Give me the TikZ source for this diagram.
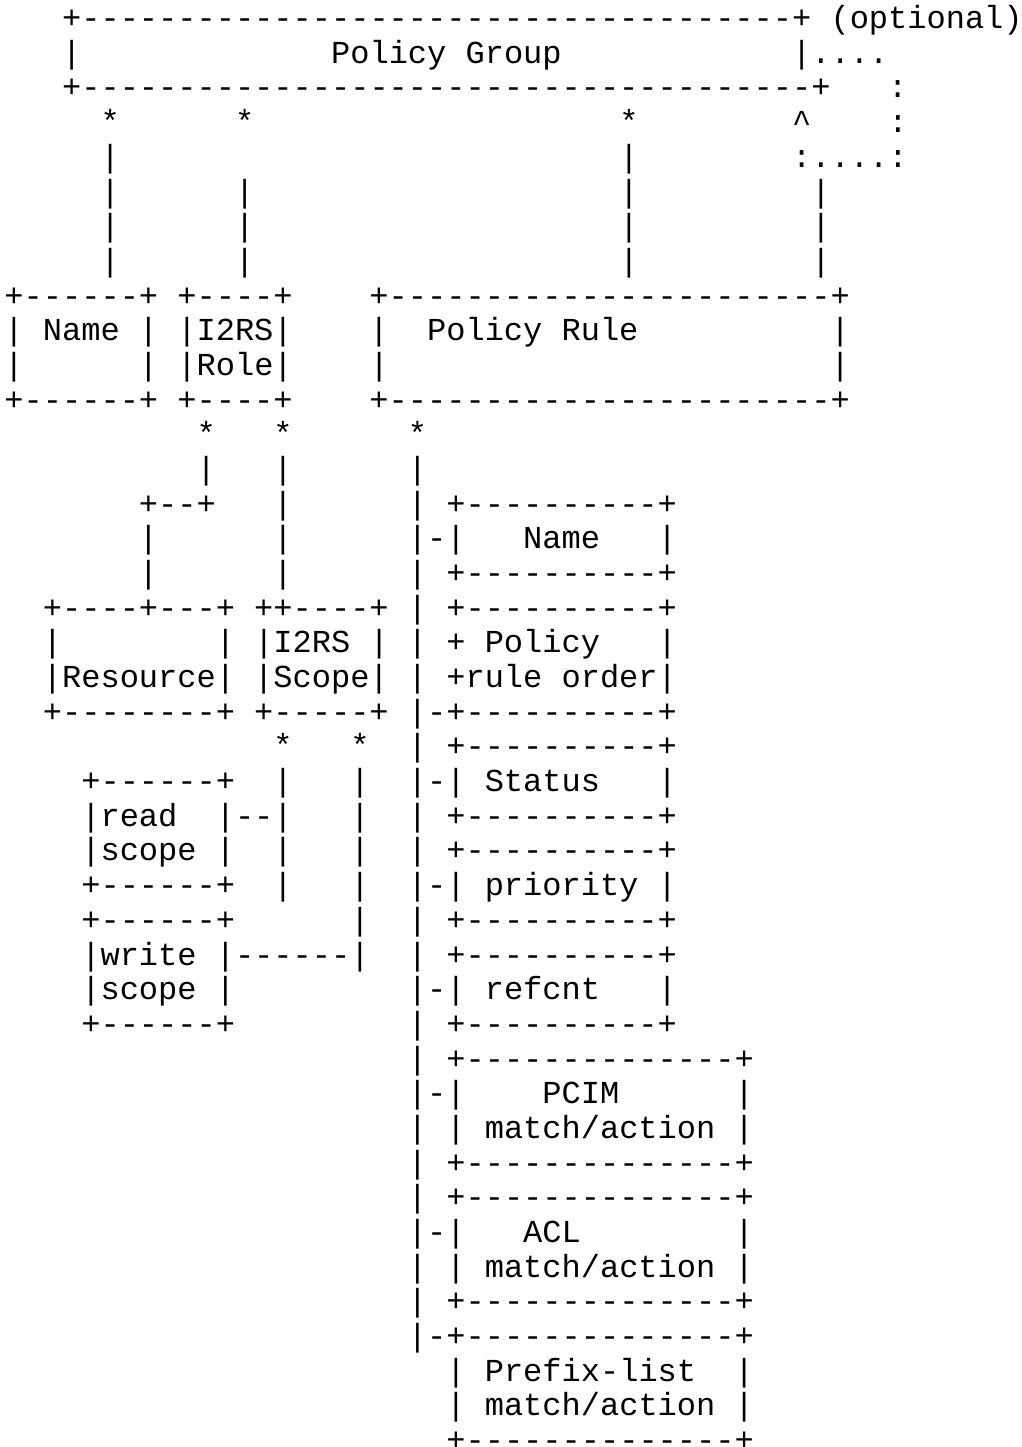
\documentclass[tikz,border=0pt]{standalone}
\usepackage{fontspec}
\setmonofont{Liberation Mono}

% spaces typed in a row are kept, one column each
{\catcode`\ =\active\gdef\SpacesOn{\catcode`\ =\active\def {\ }}}
\newcommand*{\AsciiRow}{\begingroup\SpacesOn\AsciiRowAux}
\newcommand*{\AsciiRowAux}[2]{%
   \node[rowtext] (l#1) at (1.405pt,{-8.94pt-(#1-1)*10.832pt}) {#2};%
   \endgroup}

\begin{document}
\begin{tikzpicture}[rowtext/.style={anchor=base west,inner sep=0pt,outer sep=0pt,
      font=\ttfamily\fontsize{10pt}{10.832pt}\selectfont}]
            \fill[white] (0,0) rectangle (318.9pt,-451.95pt);
            \useasboundingbox (0,0) rectangle (318.9pt,-451.95pt);
            % policy group
            \AsciiRow{1}{   +-------------------------------------+ (optional)}
            \AsciiRow{2}{   |             Policy Group            |....}
            \AsciiRow{3}{   +--------------------------------------+   :}
            \AsciiRow{4}{     *      *                   *        \textasciicircum    :}
            \AsciiRow{5}{     |                          |        :....:}
            \AsciiRow{6}{     |      |                   |         |}
            \AsciiRow{7}{     |      |                   |         |}
            \AsciiRow{8}{     |      |                   |         |}
            % name, role, policy rule
            \AsciiRow{9}{+------+ +----+    +-----------------------+}
            \AsciiRow{10}{| Name | |I2RS|    |  Policy Rule          |}
            \AsciiRow{11}{|      | |Role|    |                       |}
            \AsciiRow{12}{+------+ +----+    +-----------------------+}
            \AsciiRow{13}{          *   *      *}
            \AsciiRow{14}{          |   |      |}
            \AsciiRow{15}{       +--+   |      | +----------+}
            \AsciiRow{16}{       |      |      |-|   Name   |}
            \AsciiRow{17}{       |      |      | +----------+}
            % resource, scope
            \AsciiRow{18}{  +----+---+ ++----+ | +----------+}
            \AsciiRow{19}{  |        | |I2RS | | + Policy   |}
            \AsciiRow{20}{  |Resource| |Scope| | +rule order|}
            \AsciiRow{21}{  +--------+ +-----+ |-+----------+}
            \AsciiRow{22}{              *   *  | +----------+}
            \AsciiRow{23}{    +------+  |   |  |-| Status   |}
            \AsciiRow{24}{    |read  |--|   |  | +----------+}
            \AsciiRow{25}{    |scope |  |   |  | +----------+}
            \AsciiRow{26}{    +------+  |   |  |-| priority |}
            \AsciiRow{27}{    +------+      |  | +----------+}
            \AsciiRow{28}{    |write |------|  | +----------+}
            \AsciiRow{29}{    |scope |         |-| refcnt   |}
            \AsciiRow{30}{    +------+         | +----------+}
            % match/action entries
            \AsciiRow{31}{                     | +--------------+}
            \AsciiRow{32}{                     |-|    PCIM      |}
            \AsciiRow{33}{                     | | match/action |}
            \AsciiRow{34}{                     | +--------------+}
            \AsciiRow{35}{                     | +--------------+}
            \AsciiRow{36}{                     |-|   ACL        |}
            \AsciiRow{37}{                     | | match/action |}
            \AsciiRow{38}{                     | +--------------+}
            \AsciiRow{39}{                     |-+--------------+}
            \AsciiRow{40}{                       | Prefix-list  |}
            \AsciiRow{41}{                       | match/action |}
            \AsciiRow{42}{                       +--------------+}
          \end{tikzpicture}
\end{document}
